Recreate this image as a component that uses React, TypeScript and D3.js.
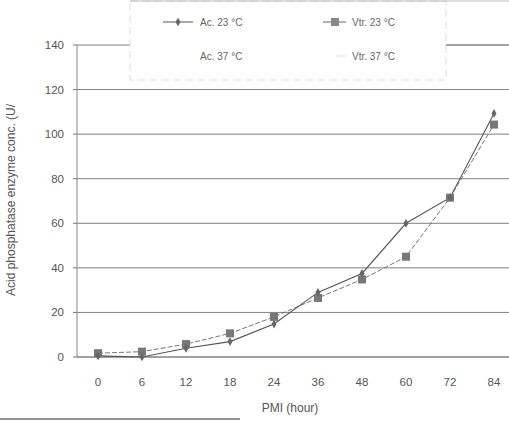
import React from 'react';
import * as d3 from 'd3';

const pmiHours = ['0', '6', '12', '18', '24', '36', '48', '60', '72', '84'];
const ac23 = [0.5, 0, 3.9, 6.9, 14.8, 29, 37.5, 60, 71.5, 109.3];
const vtr23 = [1.7, 2.4, 5.8, 10.6, 18, 26.5, 34.8, 45, 71.5, 104.3];
const yTicks = [0, 20, 40, 60, 80, 100, 120, 140];
const legendNames = ['Ac. 23 °C', 'Vtr. 23 °C', 'Ac. 37 °C', 'Vtr. 37 °C'];

const W = 509;
const H = 421;
const left = 77;
const top = 45;
const bottom = 357;

export default function App() {
  const x = d3.scaleBand().domain(pmiHours).range([left, 517]).padding(0);
  const y = d3.scaleLinear().domain([0, 140]).range([bottom, top]);
  const cx = (c: string) => (x(c) as number) + x.bandwidth() / 2 - 1;

  const line = d3
    .line<number>()
    .x((d, i) => cx(pmiHours[i]))
    .y((d) => y(d));

  const diamond = d3.symbol().type(d3.symbolDiamond).size(22);
  const font = 'Liberation Sans, Arial, sans-serif';

  return (
    <svg width={W} height={H} style={{ position: 'absolute', left: 0, top: 0, background: '#fff' }}>
      <rect width={W} height={H} fill="#fff" />
      {/* gridlines */}
      {yTicks.slice(1).map((t) => (
        <line key={t} x1={left} x2={W} y1={y(t)} y2={y(t)} stroke="#555" strokeWidth={1} opacity={0.75} />
      ))}
      {/* axes */}
      <line x1={left} x2={left} y1={top} y2={bottom} stroke="#888" strokeWidth={1} />
      <line x1={left} x2={W} y1={bottom} y2={bottom} stroke="#444" strokeWidth={1.2} />
      {yTicks.map((t) => (
        <g key={t}>
          <line x1={left - 4} x2={left} y1={y(t)} y2={y(t)} stroke="#777" />
          <text x={64} y={y(t) + 4} textAnchor="end" fontSize={11.5} fill="#555" fontFamily={font}>
            {t}
          </text>
        </g>
      ))}
      {pmiHours.map((c) => (
        <text key={c} x={cx(c)} y={386} textAnchor="middle" fontSize={11.5} fill="#555" fontFamily={font}>
          {c}
        </text>
      ))}
      <text x={290} y={412} textAnchor="middle" fontSize={12} fill="#555" fontFamily={font}>
        PMI (hour)
      </text>
      <text
        transform={`translate(15, 296) rotate(-90)`}
        textAnchor="start"
        fontSize={12}
        fill="#555"
        fontFamily={font}
      >
        Acid phosphatase enzyme conc. (U/
      </text>

      {/* series */}
      <path d={line(vtr23) ?? ''} fill="none" stroke="#777" strokeWidth={1} strokeDasharray="5,2" />
      <path d={line(ac23) ?? ''} fill="none" stroke="#555" strokeWidth={1.1} />
      {vtr23.map((v, i) => (
        <rect key={i} x={cx(pmiHours[i]) - 4} y={y(v) - 4} width={8} height={8} fill="#777" />
      ))}
      {ac23.map((v, i) => (
        <path key={i} d={diamond() ?? ''} transform={`translate(${cx(pmiHours[i])},${y(v)})`} fill="#666" />
      ))}

      {/* legend box */}
      <rect x={130} y={1} width={316} height={79} fill="#fff" stroke="#ddd" strokeWidth={1} strokeDasharray="8,4" />
      <line x1={130} x2={W} y1={1} y2={1} stroke="#bbb" />
      <g fontFamily={font} fontSize={10} fill="#666">
        <line x1={163} x2={193} y1={22} y2={22} stroke="#555" />
        <path d={diamond() ?? ''} transform="translate(178,22)" fill="#666" />
        <text x={200} y={26}>{legendNames[0]}</text>
        <line x1={323} x2={346} y1={22} y2={22} stroke="#666" />
        <rect x={331} y={18} width={8} height={8} fill="#888" />
        <text x={352} y={26}>{legendNames[1]}</text>
        <text x={200} y={60}>{legendNames[2]}</text>
        <line x1={336} x2={346} y1={56} y2={56} stroke="#ddd" />
        <text x={352} y={60}>{legendNames[3]}</text>
      </g>
      <line x1={446} x2={W} y1={y(140)} y2={y(140)} stroke="#888" />
      <line x1={0} x2={240} y1={419} y2={419} stroke="#666" strokeWidth={2} opacity={0.7} />
    </svg>
  );
}
